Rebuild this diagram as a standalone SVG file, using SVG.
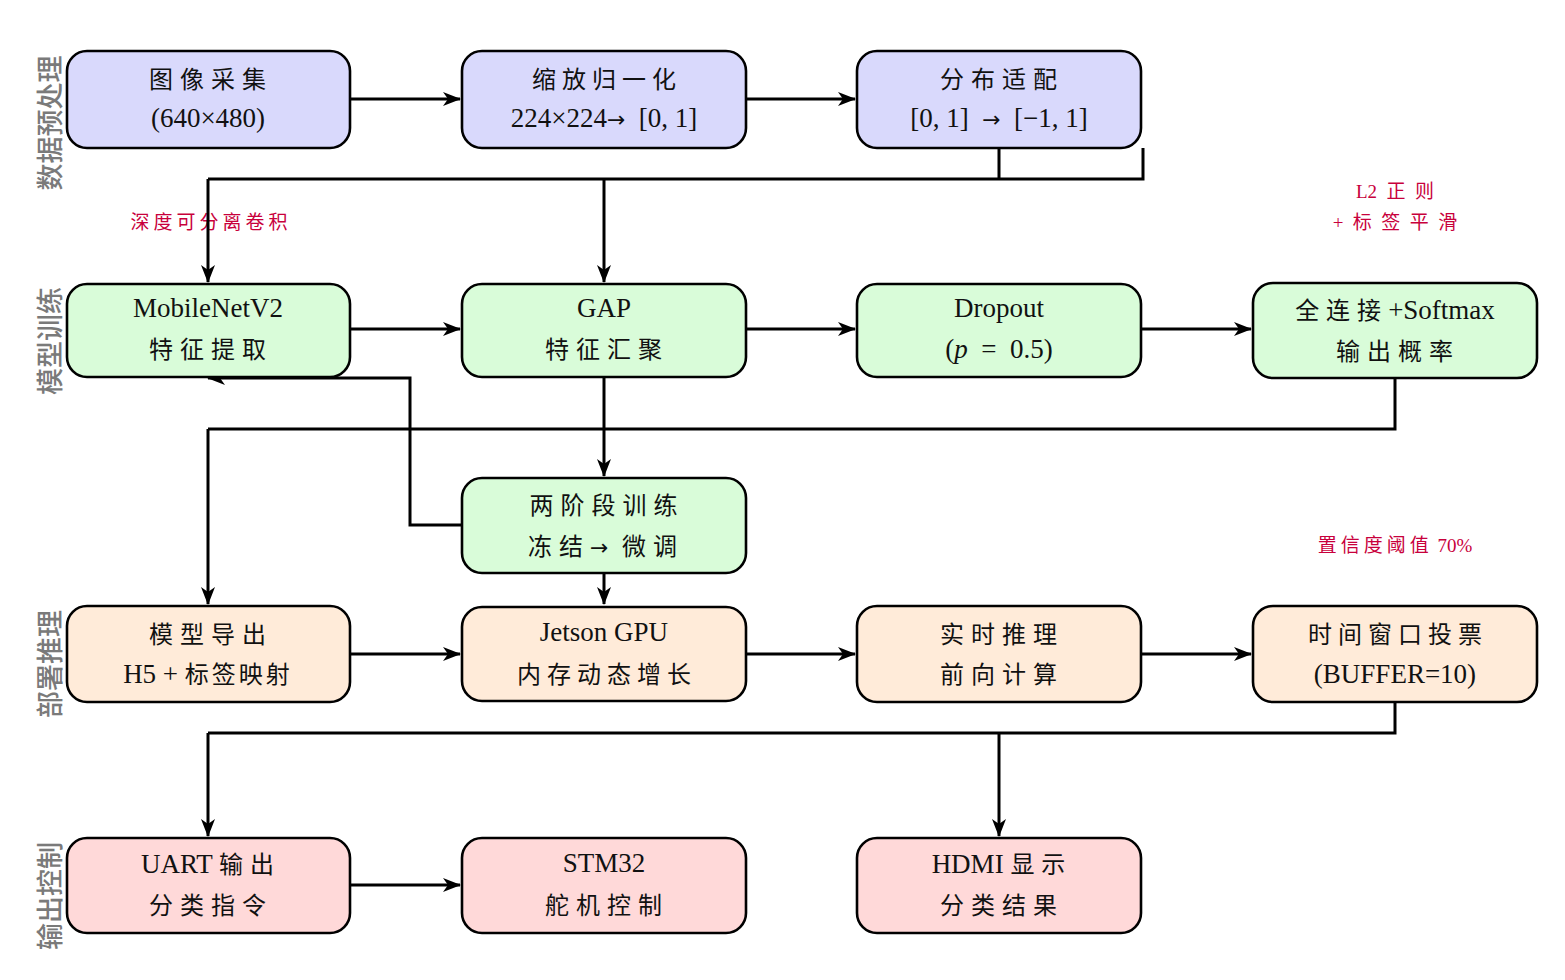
<svg xmlns="http://www.w3.org/2000/svg" width="1565" height="980" viewBox="0 0 1565 980">
<defs>
<marker id="arr" markerUnits="userSpaceOnUse" markerWidth="18" markerHeight="16" viewBox="0 0 18 16" refX="17" refY="8" orient="auto">
<path d="M0,1 L18,8 L0,15 L5,8 Z" fill="#000"/>
</marker>
</defs>
<style>
.box{stroke:#000;stroke-width:2.6}
.pre{fill:#d9d9fc}
.trn{fill:#d9fcd9}
.dep{fill:#ffebd9}
.out{fill:#ffd9d9}
text{font-family:"Liberation Serif","Noto Sans CJK SC",serif;fill:#111}
.t{font-size:27px;text-anchor:middle}
.c{font-size:24px;letter-spacing:7px}
.m{font-family:"DejaVu Sans",sans-serif;font-size:22px;letter-spacing:0}
.side{font-size:27px;fill:#7a7a7a;text-anchor:middle;font-weight:500}
.note{font-size:19px;fill:#c8003c;text-anchor:middle}
.ln{fill:none;stroke:#000;stroke-width:3}
.ar{fill:none;stroke:#000;stroke-width:3;marker-end:url(#arr)}
</style>
<rect width="1565" height="980" fill="#fff"/>

<g id="side-labels">
<text class="side" transform="translate(60,123) rotate(-90)">数据预处理</text>
<text class="side" transform="translate(60,341) rotate(-90)">模型训练</text>
<text class="side" transform="translate(60,664) rotate(-90)">部署推理</text>
<text class="side" transform="translate(60,896) rotate(-90)">输出控制</text>
</g>

<g id="notes">
<text class="note" x="211" y="229" style="letter-spacing:4px">深度可分离卷积</text>
<text class="note" x="1395" y="198" xml:space="preserve">L2  正  则</text>
<text class="note" x="1395" y="229" xml:space="preserve">+  标  签  平  滑</text>
<text class="note" x="1395" y="552"><tspan style="letter-spacing:4px">置信度阈值</tspan> 70%</text>
</g>

<g id="connectors">
<path class="ar" d="M350,99 H460"/>
<path class="ar" d="M746,99 H855"/>
<path class="ln" d="M999,148 V179 M1143,148 V179 H208"/>
<path class="ar" d="M208,179 V282"/>
<path class="ar" d="M604,179 V282"/>
<path class="ar" d="M350,329 H460"/>
<path class="ar" d="M746,329 H855"/>
<path class="ar" d="M1141,329 H1251"/>
<path class="ln" d="M1395,378 V429 H208"/>
<path class="ar" d="M208,429 V604"/>
<path class="ar" d="M604,377 V476"/>
<path class="ar" d="M462,525 H410 V378 H208"/>
<path class="ar" d="M604,573 V604"/>
<path class="ar" d="M350,654 H460"/>
<path class="ar" d="M746,654 H855"/>
<path class="ar" d="M1141,654 H1251"/>
<path class="ln" d="M1395,702 V733 H208"/>
<path class="ar" d="M208,733 V836"/>
<path class="ar" d="M999,733 V836"/>
<path class="ar" d="M350,885 H460"/>
</g>

<g id="n-capture">
<rect class="box pre" x="67" y="51" width="283" height="97" rx="20"/>
<text class="t" x="211" y="88"><tspan class="c">图像采集</tspan></text>
<text class="t" x="208" y="127">(640×480)</text>
</g>
<g id="n-resize">
<rect class="box pre" x="462" y="51" width="284" height="97" rx="20"/>
<text class="t" x="607" y="88"><tspan class="c" style="letter-spacing:6px">缩放归一化</tspan></text>
<text class="t" x="604" y="127" xml:space="preserve">224×224<tspan class="m">→</tspan>  [0, 1]</text>
</g>
<g id="n-dist">
<rect class="box pre" x="857" y="51" width="284" height="97" rx="20"/>
<text class="t" x="1002" y="88"><tspan class="c">分布适配</tspan></text>
<text class="t" x="999" y="127" xml:space="preserve">[0, 1]  <tspan class="m">→</tspan>  [−1, 1]</text>
</g>

<g id="n-mobilenet">
<rect class="box trn" x="67" y="284" width="283" height="93" rx="20"/>
<text class="t" x="208" y="317">MobileNetV2</text>
<text class="t" x="211" y="358"><tspan class="c">特征提取</tspan></text>
</g>
<g id="n-gap">
<rect class="box trn" x="462" y="284" width="284" height="93" rx="20"/>
<text class="t" x="604" y="317">GAP</text>
<text class="t" x="607" y="358"><tspan class="c">特征汇聚</tspan></text>
</g>
<g id="n-dropout">
<rect class="box trn" x="857" y="284" width="284" height="93" rx="20"/>
<text class="t" x="999" y="317">Dropout</text>
<text class="t" x="999" y="358" xml:space="preserve">(<tspan font-style="italic">p</tspan>  =  0.5)</text>
</g>
<g id="n-fc">
<rect class="box trn" x="1253" y="283" width="284" height="95" rx="20"/>
<text class="t" x="1395" y="319"><tspan class="c">全连接</tspan>+Softmax</text>
<text class="t" x="1398" y="360"><tspan class="c">输出概率</tspan></text>
</g>
<g id="n-twostage">
<rect class="box trn" x="462" y="478" width="284" height="95" rx="20"/>
<text class="t" x="607" y="514"><tspan class="c" style="letter-spacing:7px">两阶段训练</tspan></text>
<text class="t" x="606" y="555" xml:space="preserve"><tspan class="c">冻结</tspan><tspan class="m">→</tspan>  <tspan class="c">微调</tspan></text>
</g>

<g id="n-export">
<rect class="box dep" x="67" y="606" width="283" height="96" rx="20"/>
<text class="t" x="211" y="643"><tspan class="c">模型导出</tspan></text>
<text class="t" x="208" y="683">H5 + <tspan class="c" style="letter-spacing:3px">标签映射</tspan></text>
</g>
<g id="n-jetson">
<rect class="box dep" x="462" y="607" width="284" height="94" rx="20"/>
<text class="t" x="604" y="641">Jetson GPU</text>
<text class="t" x="607" y="683"><tspan class="c" style="letter-spacing:6px">内存动态增长</tspan></text>
</g>
<g id="n-infer">
<rect class="box dep" x="857" y="606" width="284" height="96" rx="20"/>
<text class="t" x="1002" y="643"><tspan class="c">实时推理</tspan></text>
<text class="t" x="1002" y="683"><tspan class="c">前向计算</tspan></text>
</g>
<g id="n-vote">
<rect class="box dep" x="1253" y="606" width="284" height="96" rx="20"/>
<text class="t" x="1398" y="643"><tspan class="c" style="letter-spacing:6px">时间窗口投票</tspan></text>
<text class="t" x="1395" y="683">(BUFFER=10)</text>
</g>

<g id="n-uart">
<rect class="box out" x="67" y="838" width="283" height="95" rx="20"/>
<text class="t" x="211" y="873">UART <tspan class="c">输出</tspan></text>
<text class="t" x="211" y="914"><tspan class="c">分类指令</tspan></text>
</g>
<g id="n-stm32">
<rect class="box out" x="462" y="838" width="284" height="95" rx="20"/>
<text class="t" x="604" y="872">STM32</text>
<text class="t" x="607" y="914"><tspan class="c">舵机控制</tspan></text>
</g>
<g id="n-hdmi">
<rect class="box out" x="857" y="838" width="284" height="95" rx="20"/>
<text class="t" x="1002" y="873">HDMI <tspan class="c">显示</tspan></text>
<text class="t" x="1002" y="914"><tspan class="c">分类结果</tspan></text>
</g>
</svg>
